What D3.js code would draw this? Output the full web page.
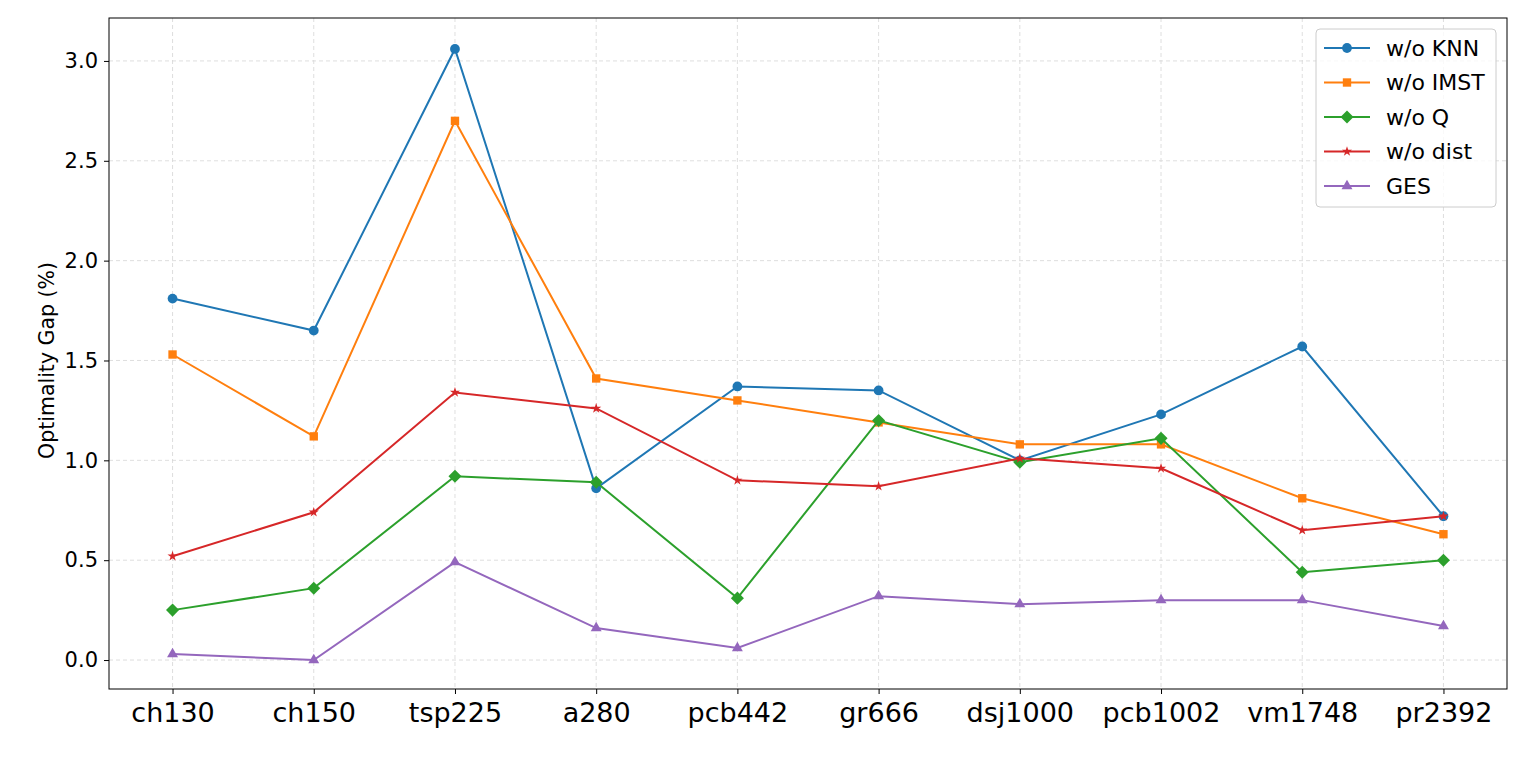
<!DOCTYPE html>
<html>
<head>
<meta charset="utf-8">
<script src="https://cdn.jsdelivr.net/npm/d3@7"></script>
<style>
  body { margin: 0; background: #fff; }
  text { font-family: "DejaVu Sans", sans-serif; }
</style>
</head>
<body>
<script>
var categories = ["ch130", "ch150", "tsp225", "a280", "pcb442", "gr666", "dsj1000", "pcb1002", "vm1748", "pr2392"];
var knn  = [1.81, 1.65, 3.06, 0.86, 1.37, 1.35, 1.00, 1.23, 1.57, 0.72];
var imst = [1.53, 1.12, 2.70, 1.41, 1.30, 1.19, 1.08, 1.08, 0.81, 0.63];
var noQ  = [0.25, 0.36, 0.92, 0.89, 0.31, 1.20, 0.99, 1.11, 0.44, 0.50];
var dist = [0.52, 0.74, 1.34, 1.26, 0.90, 0.87, 1.01, 0.96, 0.65, 0.72];
var ges  = [0.03, 0.00, 0.49, 0.16, 0.06, 0.32, 0.28, 0.30, 0.30, 0.17];
var yTicks = [0, 0.5, 1.0, 1.5, 2.0, 2.5, 3.0];

// matplotlib style diamond: square rotated 45deg
var squareDiamond = {
  draw: function(ctx, size) {
    var r = Math.sqrt(size / 2);
    ctx.moveTo(0, -r); ctx.lineTo(r, 0); ctx.lineTo(0, r); ctx.lineTo(-r, 0); ctx.closePath();
  }
};

var series = [
  {name: "w/o KNN", values: knn, color: "#1f77b4", marker: d3.symbolCircle, size: 75},
  {name: "w/o IMST", values: imst, color: "#ff7f0e", marker: d3.symbolSquare, size: 70},
  {name: "w/o Q", values: noQ, color: "#2ca02c", marker: squareDiamond, size: 85},
  {name: "w/o dist", values: dist, color: "#d62728", marker: d3.symbolStar, size: 32},
  {name: "GES", values: ges, color: "#9467bd", marker: d3.symbolTriangle, size: 52}
];

var svgWidth = 1536, svgHeight = 757;
var margin = {top: 18, right: 29, bottom: 68, left: 109};
var width = svgWidth - margin.left - margin.right;
var height = svgHeight - margin.top - margin.bottom;

var svg = d3.select("body").append("svg")
  .attr("width", svgWidth)
  .attr("height", svgHeight);

var g = svg.append("g")
  .attr("transform", `translate(${margin.left}, ${margin.top})`);

var x = d3.scaleLinear().domain([-0.45, categories.length - 1 + 0.45]).range([0, width]);
var y = d3.scaleLinear().domain([-0.145, 3.215]).range([height, 0]);

// grid
g.append("g").selectAll("line").data(categories).enter().append("line")
  .attr("x1", (d, i) => x(i)).attr("x2", (d, i) => x(i))
  .attr("y1", 0).attr("y2", height)
  .attr("stroke", "#d6d6d6").attr("stroke-dasharray", "4,3").attr("stroke-width", 0.8);
g.append("g").selectAll("line").data(yTicks).enter().append("line")
  .attr("x1", 0).attr("x2", width)
  .attr("y1", d => y(d)).attr("y2", d => y(d))
  .attr("stroke", "#d6d6d6").attr("stroke-dasharray", "4,3").attr("stroke-width", 0.8);

// axes
var xAxis = g.append("g").attr("transform", `translate(0, ${height})`)
  .call(d3.axisBottom(x).tickValues(d3.range(categories.length)).tickFormat(i => categories[i]).tickSize(5).tickPadding(9));
xAxis.selectAll("text").style("font-size", "27px").attr("fill", "#000");

var yAxis = g.append("g")
  .call(d3.axisLeft(y).tickValues(yTicks).tickFormat(d3.format(".1f")).tickSize(5).tickPadding(6));
yAxis.selectAll("text").style("font-size", "21px").attr("fill", "#000");
[xAxis, yAxis].forEach(a => { a.select(".domain").remove(); a.selectAll("line").attr("stroke", "#000"); });

g.append("rect").attr("width", width).attr("height", height)
  .attr("fill", "none").attr("stroke", "#000").attr("stroke-width", 1);

svg.append("text")
  .attr("transform", `translate(54, ${margin.top + y(1.5)}) rotate(-90)`)
  .attr("text-anchor", "middle")
  .style("font-size", "20.5px")
  .text("Optimality Gap (%)");

// lines
var line = d3.line().x((d, i) => x(i)).y(d => y(d));
series.forEach(s => {
  g.append("path").datum(s.values)
    .attr("d", line).attr("fill", "none")
    .attr("stroke", s.color).attr("stroke-width", 2);
  g.selectAll(null).data(s.values).enter().append("path")
    .attr("d", d3.symbol().type(s.marker).size(s.size))
    .attr("transform", (d, i) => `translate(${x(i)}, ${y(d)})`)
    .attr("fill", s.color);
});

// legend
var legend = g.append("g").attr("transform", `translate(${width - 191}, 11)`);
legend.append("rect").attr("width", 180).attr("height", 178).attr("rx", 4)
  .attr("fill", "#fff").attr("fill-opacity", 0.8).attr("stroke", "#ccc");
series.forEach((s, i) => {
  var row = legend.append("g").attr("transform", `translate(0, ${19 + i * 34.5})`);
  row.append("line").attr("x1", 8).attr("x2", 54).attr("stroke", s.color).attr("stroke-width", 2);
  row.append("path").attr("d", d3.symbol().type(s.marker).size(s.size))
    .attr("transform", "translate(31, 0)").attr("fill", s.color);
  row.append("text").attr("x", 70).attr("dy", "0.35em").style("font-size", "22px").text(s.name);
});
</script>
</body>
</html>
